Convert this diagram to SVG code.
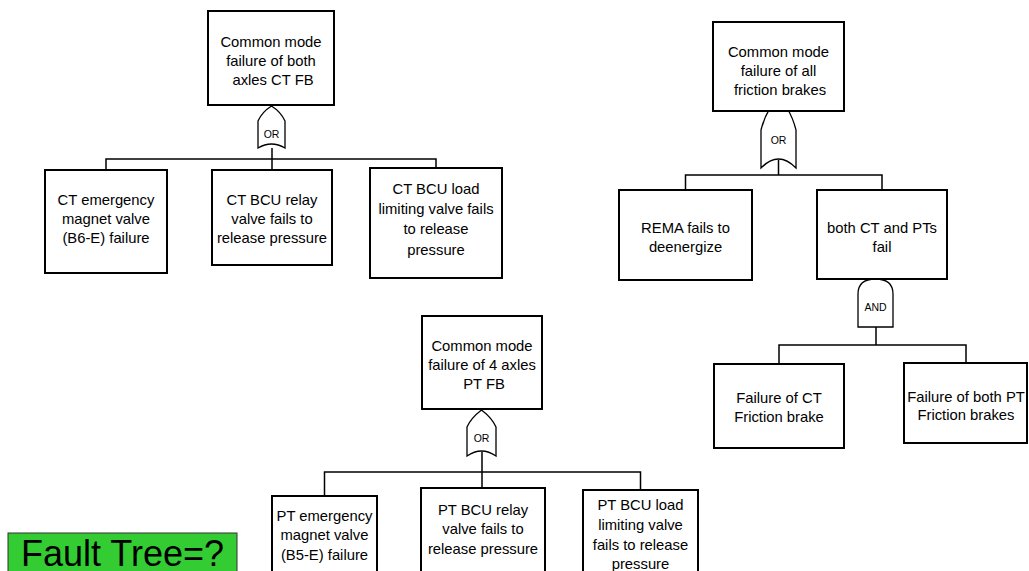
<svg xmlns="http://www.w3.org/2000/svg" width="1029" height="571" viewBox="0 0 1029 571">
<style>
.box{fill:#fff;stroke:#000;stroke-width:2}
.gate{fill:#fff;stroke:#000;stroke-width:1.3}
.con{fill:none;stroke:#000;stroke-width:1.5}
text{font-family:"Liberation Sans",Arial,sans-serif;font-size:14.8px;fill:#000;text-anchor:middle}
.g{font-size:10.5px}
.big{font-size:36px}
</style>
<rect width="1029" height="571" fill="#fff"/>
<g id="connectors">
<path class="con" d="M272,148V159M106,170V159H436V168M272,159V170"/>
<path class="con" d="M778.5,160V175M685.5,190V175H882V190"/>
<path class="con" d="M876,327V345M779,364V345H966V363"/>
<path class="con" d="M482,452V488M324.5,496V472H640.5V490"/>
</g>
<g id="gate-or-1"><path class="gate" d="M258,148V121Q262,112 271.5,106Q281,112 285,121V148Q271.5,140 258,148Z"/><text class="g" x="271.5" y="138">OR</text></g>
<g id="gate-or-2"><path class="gate" d="M761,168V130Q764,118 770,108H787Q793,118 796,130V168Q778.5,150 761,168Z"/><text class="g" x="778.5" y="144">OR</text></g>
<g id="gate-and"><path class="gate" d="M858,327V294Q858,279 875.5,279Q893,279 893,294V327Z"/><text class="g" x="875.5" y="311">AND</text></g>
<g id="gate-or-3"><path class="gate" d="M467,456V427Q471,418 481.5,410Q492,418 496,427V456Q481.5,446 467,456Z"/><text class="g" x="481.5" y="442">OR</text></g>
<g id="top1"><rect class="box" x="208" y="11" width="126" height="94"/><text x="271" y="47">Common mode</text><text x="271" y="66">failure of both</text><text x="273" y="85">axles CT FB</text></g>
<g id="c1a"><rect class="box" x="45" y="170" width="122" height="103"/><text x="106" y="205">CT emergency</text><text x="106" y="224">magnet valve</text><text x="106" y="243">(B6-E) failure</text></g>
<g id="c1b"><rect class="box" x="212" y="170" width="120" height="95"/><text x="272" y="205">CT BCU relay</text><text x="272" y="224">valve fails to</text><text x="272" y="243">release pressure</text></g>
<g id="c1c"><rect class="box" x="370" y="168" width="132" height="110"/><text x="436" y="194">CT BCU load</text><text x="436" y="214">limiting valve fails</text><text x="436" y="234">to release</text><text x="436" y="255">pressure</text></g>
<g id="top2"><rect class="box" x="713" y="22" width="131" height="89"/><text x="778.5" y="57">Common mode</text><text x="778.5" y="76">failure of all</text><text x="780" y="95">friction brakes</text></g>
<g id="rema"><rect class="box" x="619" y="190" width="133" height="90"/><text x="685.5" y="233">REMA fails to</text><text x="685.5" y="252">deenergize</text></g>
<g id="both"><rect class="box" x="817" y="190" width="130" height="89"/><text x="882" y="233">both CT and PTs</text><text x="882" y="252">fail</text></g>
<g id="ctfb"><rect class="box" x="714" y="364" width="130" height="84"/><text x="779" y="403">Failure of CT</text><text x="779" y="422">Friction brake</text></g>
<g id="ptfb"><rect class="box" x="904" y="363" width="123" height="80"/><text x="966" y="402">Failure of both PT</text><text x="966" y="420">Friction brakes</text></g>
<g id="top3"><rect class="box" x="422" y="316" width="120" height="93"/><text x="482" y="351">Common mode</text><text x="482" y="370">failure of 4 axles</text><text x="484" y="389">PT FB</text></g>
<g id="c3a"><rect class="box" x="272" y="496" width="105" height="80"/><text x="324.5" y="521">PT emergency</text><text x="324.5" y="540">magnet valve</text><text x="324.5" y="560">(B5-E) failure</text></g>
<g id="c3b"><rect class="box" x="421" y="488" width="124" height="88"/><text x="483" y="515">PT BCU relay</text><text x="483" y="534">valve fails to</text><text x="483" y="554">release pressure</text></g>
<g id="c3c"><rect class="box" x="583" y="490" width="115" height="86"/><text x="640.5" y="510">PT BCU load</text><text x="640.5" y="530">limiting valve</text><text x="640.5" y="550">fails to release</text><text x="640.5" y="569">pressure</text></g>
<g id="label"><rect x="8" y="533" width="229" height="45" fill="#33cc33" stroke="#333" stroke-width="1"/><text class="big" x="122.5" y="566">Fault Tree=?</text></g>
</svg>
